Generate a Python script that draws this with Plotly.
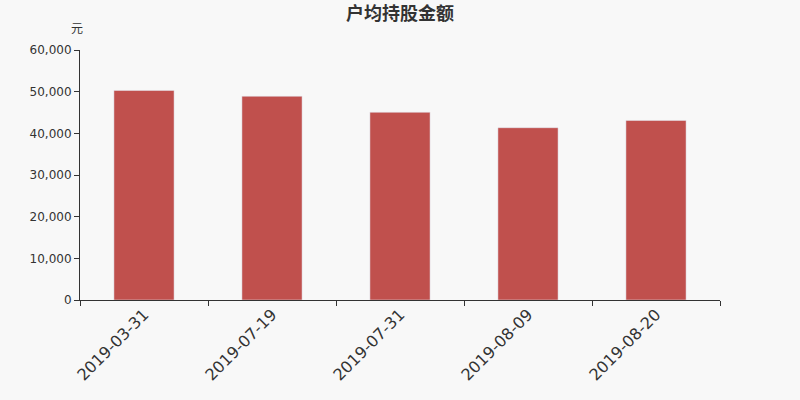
import plotly.graph_objects as go

categories = ["2019-03-31", "2019-07-19", "2019-07-31", "2019-08-09", "2019-08-20"]
values = [50300, 48900, 45050, 41350, 43100]
y_ticks = [0, 10000, 20000, 30000, 40000, 50000, 60000]
y_labels = ["0", "10,000", "20,000", "30,000", "40,000", "50,000", "60,000"]

fig = go.Figure(go.Bar(x=categories, y=values, marker_color="#c0504d", width=0.47))

fig.update_layout(
    width=800, height=400,
    paper_bgcolor="#f8f8f8", plot_bgcolor="#f8f8f8",
    margin=dict(l=80, r=80, t=50, b=100),
    font=dict(family="DejaVu Sans, Noto Sans CJK SC", color="#333333"),
    title=dict(text="<b>户均持股金额</b>", x=0.5, xanchor="center", y=0.967, yanchor="middle",
               font=dict(size=18, family="Noto Sans CJK SC", color="#333333")),
    showlegend=False,
    bargap=0.5,
)
fig.update_xaxes(type="category", showline=True, linecolor="#333333", linewidth=1,
                 ticks="outside", tickson="boundaries", ticklen=5, tickcolor="#333333",
                 tickangle=-45, tickfont=dict(size=16, color="#333333"), showgrid=False,
                 ticklabelstandoff=-2)
fig.update_yaxes(range=[0, 60000], tickvals=y_ticks, ticktext=y_labels,
                 showline=True, linecolor="#333333", linewidth=1,
                 ticks="outside", ticklen=5, tickcolor="#333333",
                 tickfont=dict(size=12, color="#333333"), showgrid=False, zeroline=False)
fig.add_annotation(text="元", xref="paper", yref="paper", x=0.008, y=1.088, xanchor="right",
                   yanchor="middle", showarrow=False, font=dict(size=12, family="Noto Sans CJK SC", color="#333333"))

fig.write_html("out.html", config={"displayModeBar": False},
               post_script="document.body.style.margin='0';document.body.style.background='#f8f8f8';")
